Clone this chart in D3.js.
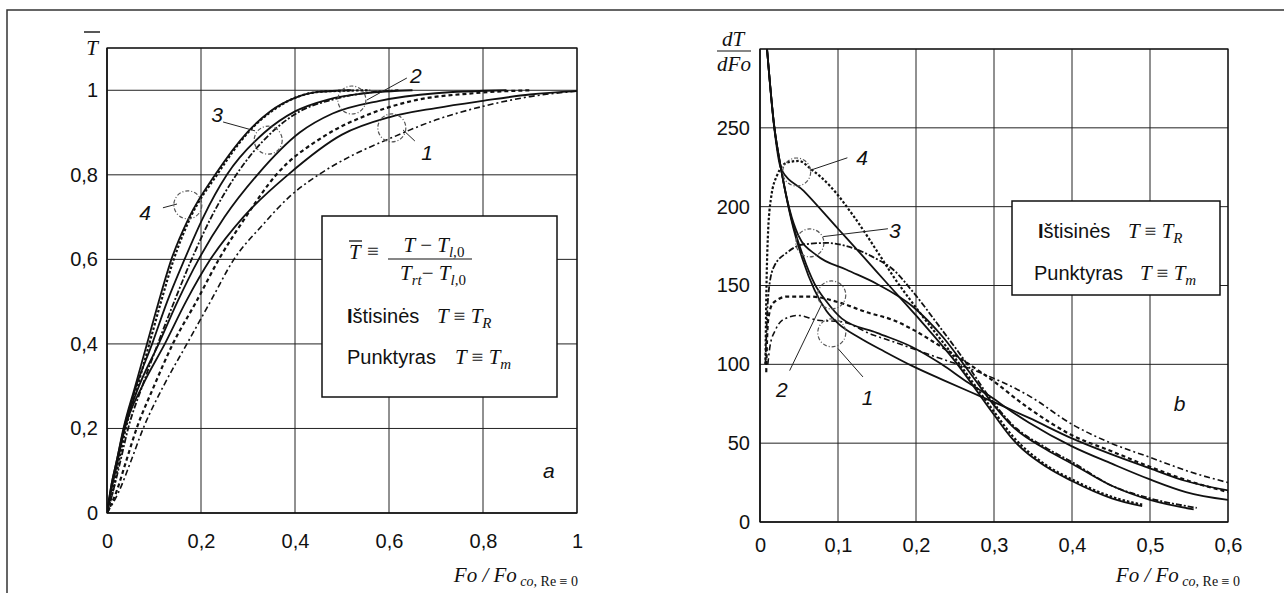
<!DOCTYPE html>
<html lang="lt">
<head>
<meta charset="UTF-8">
<script src="https://d3js.org/d3.v7.min.js"></script>
<style>
  body { margin: 0; background: #fff; }
  svg { display: block; }
  .tick text { font-family: "Liberation Sans", Arial, sans-serif; font-size: 20px; fill: #111; }
  .grid { stroke: #222; stroke-width: 1; }
  .border { fill: none; stroke: #111; stroke-width: 1.2; }
  .sans { font-family: "Liberation Sans", Arial, sans-serif; font-size: 20px; fill: #111; }
  .math { font-family: "Liberation Serif", "Times New Roman", serif; font-style: italic; font-size: 21px; fill: #111; }
  .up { font-style: normal; }
  .lbl { font-family: "Liberation Sans", Arial, sans-serif; font-style: italic; font-size: 21px; fill: #111; }
  .circ { fill: none; stroke: #555; stroke-width: 1.2; stroke-dasharray: 4 2 1 2; }
  .leader { stroke: #222; stroke-width: 1; }
  .legend { fill: #fff; stroke: #111; stroke-width: 1.5; }
</style>
</head>
<body>
<div id="chart"></div>
<script>
// ---- data: panel a (T bar vs Fo/Fo_co) ----
const aXTicks = [0, 0.2, 0.4, 0.6, 0.8, 1];
const aYTicks = [0, 0.2, 0.4, 0.6, 0.8, 1];

const a1Solid = [[0,0],[0.01,0.06],[0.02,0.11],[0.038,0.2],[0.075,0.3],[0.123,0.4],[0.168,0.5],[0.22,0.6],[0.29,0.7],[0.385,0.8],[0.5,0.895],[0.6,0.936],[0.7,0.958],[0.8,0.975],[0.9,0.99],[1,0.998]];
const a1Dash  = [[0,0],[0.025,0.05],[0.05,0.12],[0.077,0.2],[0.12,0.3],[0.17,0.4],[0.22,0.5],[0.27,0.6],[0.33,0.68],[0.39,0.75],[0.45,0.8],[0.52,0.845],[0.6,0.885],[0.7,0.93],[0.8,0.962],[0.9,0.985],[1,0.998]];
const a2Solid = [[0,0],[0.01,0.06],[0.02,0.11],[0.037,0.2],[0.068,0.3],[0.11,0.4],[0.15,0.5],[0.195,0.6],[0.25,0.7],[0.32,0.8],[0.41,0.9],[0.48,0.945],[0.58,0.975],[0.7,0.993],[0.85,1]];
const a2Dash  = [[0,0],[0.02,0.05],[0.04,0.12],[0.063,0.2],[0.1,0.3],[0.14,0.4],[0.19,0.5],[0.238,0.6],[0.295,0.7],[0.36,0.8],[0.46,0.89],[0.55,0.94],[0.65,0.975],[0.78,0.993],[0.9,1]];
const a3Solid = [[0,0],[0.01,0.07],[0.02,0.12],[0.036,0.2],[0.062,0.3],[0.096,0.4],[0.128,0.5],[0.165,0.6],[0.205,0.7],[0.255,0.8],[0.335,0.9],[0.4,0.95],[0.47,0.978],[0.55,0.993],[0.65,1]];
const a3Dash  = [[0,0],[0.015,0.06],[0.03,0.13],[0.045,0.2],[0.075,0.3],[0.108,0.4],[0.143,0.5],[0.18,0.6],[0.222,0.7],[0.275,0.8],[0.35,0.9],[0.41,0.95],[0.48,0.978],[0.56,0.995],[0.62,1]];
const a4Solid = [[0,0],[0.01,0.07],[0.02,0.12],[0.035,0.2],[0.06,0.3],[0.085,0.4],[0.11,0.5],[0.137,0.6],[0.175,0.7],[0.23,0.8],[0.298,0.9],[0.347,0.95],[0.4,0.982],[0.45,0.996],[0.52,1]];
const a4Dash  = [[0,0],[0.012,0.05],[0.025,0.12],[0.04,0.2],[0.065,0.3],[0.09,0.4],[0.115,0.5],[0.142,0.6],[0.178,0.7],[0.234,0.8],[0.3,0.9],[0.35,0.95],[0.4,0.982],[0.46,0.997],[0.56,1]];

// annotations: [label, circle x, circle y, label x, label y, leader x1, y1, x2, y2]
const aNotes = [
  ["1", 0.606, 0.911, 0.681, 0.852, 0.655, 0.880, 0.630, 0.906],
  ["2", 0.521, 0.977, 0.657, 1.034, 0.638, 1.029, 0.553, 0.977],
  ["3", 0.343, 0.882, 0.234, 0.942, 0.247, 0.925, 0.315, 0.904],
  ["4", 0.172, 0.729, 0.081, 0.710, 0.119, 0.722, 0.149, 0.731]
];

// ---- data: panel b (dT/dFo vs Fo/Fo_co) ----
const bXTicks = [0, 0.1, 0.2, 0.3, 0.4, 0.5, 0.6];
const bYTicks = [0, 50, 100, 150, 200, 250];

const b1Solid = [[0.009,300],[0.018,252],[0.027,224],[0.04,192],[0.055,166],[0.07,147],[0.085,134],[0.1,126],[0.127,117],[0.16,108],[0.195,99],[0.235,90],[0.272,82],[0.3,76],[0.345,66],[0.4,53],[0.45,43],[0.5,34],[0.546,26],[0.6,20]];
const b2Solid = [[0.009,300],[0.018,252],[0.027,224],[0.04,193],[0.055,169],[0.07,151],[0.085,140],[0.105,129],[0.15,120],[0.195,111],[0.233,100],[0.265,89],[0.294,80],[0.323,70],[0.345,63],[0.4,48],[0.451,37],[0.5,27],[0.546,19],[0.6,14]];
const b3Solid = [[0.009,300],[0.018,252],[0.027,224],[0.038,198],[0.049,182],[0.073,169],[0.111,160],[0.15,151],[0.195,137],[0.235,117],[0.27,94],[0.3,74],[0.323,61],[0.367,46],[0.4,37],[0.451,23],[0.5,14],[0.556,8]];
const b4Solid = [[0.009,300],[0.018,251],[0.027,224],[0.056,210],[0.1,186],[0.133,168],[0.16,153],[0.2,131],[0.25,102],[0.3,68],[0.323,53],[0.367,35],[0.4,26],[0.451,15],[0.49,10]];
const b1Dash  = [[0.01,100],[0.013,112],[0.02,122],[0.032,129],[0.049,131],[0.074,128],[0.105,127],[0.143,119],[0.173,114],[0.224,105],[0.281,95],[0.345,80],[0.4,62],[0.45,50],[0.5,41],[0.55,32],[0.6,25]];
const b2Dash  = [[0.008,95],[0.009,115],[0.011,130],[0.017,139],[0.035,143],[0.064,143],[0.103,139],[0.137,133],[0.171,128],[0.196,122],[0.233,111],[0.259,103],[0.292,92],[0.345,72],[0.4,55],[0.45,45],[0.5,35],[0.55,26],[0.6,19]];
const b3Dash  = [[0.007,100],[0.009,130],[0.012,150],[0.018,162],[0.035,171],[0.055,176],[0.086,177],[0.111,175],[0.145,168],[0.171,160],[0.196,146],[0.233,122],[0.26,104],[0.29,82],[0.323,62],[0.367,47],[0.4,38],[0.451,23],[0.5,15],[0.56,9]];
const b4Dash  = [[0.007,100],[0.008,140],[0.01,180],[0.014,205],[0.022,220],[0.035,228],[0.05,229],[0.065,224],[0.09,213],[0.12,194],[0.155,168],[0.172,155],[0.2,136],[0.25,104],[0.3,70],[0.323,55],[0.367,36],[0.4,27],[0.451,16],[0.49,11]];

const bNotes = [
  ["1", 0.092, 120, 0.138, 79, 0.132, 92, 0.100, 110],
  ["2", 0.092, 144, 0.028, 84, 0.038, 96, 0.079, 138],
  ["3", 0.064, 177, 0.173, 185, 0.164, 186, 0.081, 181],
  ["4", 0.047, 222, 0.131, 231, 0.112, 231, 0.064, 223]
];

// line styles per series
const solid = { dash: null, width: 1.8 };
const dashStyles = [
  { dash: "6 3 2 3", width: 1.6 },   // 1
  { dash: "4 3", width: 2.2 },       // 2
  { dash: "6 2 2 2", width: 1.8 },   // 3
  { dash: "2.5 2", width: 2.2 }      // 4
];

const width = 1284, height = 593;
const svg = d3.select("#chart").append("svg").attr("width", width).attr("height", height);

// outer frame
svg.append("path").attr("d", "M7,593V10H1284").attr("fill", "none").attr("stroke", "#333").attr("stroke-width", 1.5);

const comma = d3.formatLocale({ decimal: ",", thousands: " ", grouping: [3], currency: ["", ""] }).format("~g");

function panel(opt) {
  const x = d3.scaleLinear().domain(opt.xDomain).range(opt.xRange);
  const y = d3.scaleLinear().domain(opt.yDomain).range(opt.yRange);
  const g = svg.append("g");

  // grid
  g.selectAll(".gx").data(opt.xTicks.slice(1)).enter().append("line")
    .attr("class", "grid").attr("x1", d => x(d)).attr("x2", d => x(d))
    .attr("y1", y.range()[0]).attr("y2", y.range()[1]);
  g.selectAll(".gy").data(opt.yTicks.slice(1)).enter().append("line")
    .attr("class", "grid").attr("y1", d => y(d)).attr("y2", d => y(d))
    .attr("x1", x.range()[0]).attr("x2", x.range()[1]);
  g.append("rect").attr("class", "border")
    .attr("x", x.range()[0]).attr("y", y.range()[1])
    .attr("width", x.range()[1] - x.range()[0]).attr("height", y.range()[0] - y.range()[1]);
  g.append("line").attr("x1", x.range()[0]).attr("x2", x.range()[1])
    .attr("y1", y.range()[0]).attr("y2", y.range()[0]).attr("stroke", "#111").attr("stroke-width", 1.6);
  g.append("line").attr("x1", x.range()[0]).attr("x2", x.range()[0])
    .attr("y1", y.range()[0]).attr("y2", y.range()[1]).attr("stroke", "#111").attr("stroke-width", 1.6);

  // axes (labels only)
  const ax = g.append("g").attr("transform", `translate(0,${y.range()[0]})`)
    .call(d3.axisBottom(x).tickValues(opt.xTicks).tickFormat(comma).tickSize(0).tickPadding(opt.xPad));
  const ay = g.append("g").attr("transform", `translate(${x.range()[0]},0)`)
    .call(d3.axisLeft(y).tickValues(opt.yTicks).tickFormat(comma).tickSize(0).tickPadding(opt.yPad));
  ax.select(".domain").remove();
  ay.select(".domain").remove();
  ax.attr("font-size", null).attr("font-family", null);
  ay.attr("font-size", null).attr("font-family", null);

  // legend box
  g.append("rect").attr("class", "legend")
    .attr("x", opt.legend[0]).attr("y", opt.legend[1]).attr("width", opt.legend[2]).attr("height", opt.legend[3]);

  const clipId = "clip" + opt.id;
  svg.append("clipPath").attr("id", clipId).append("rect")
    .attr("x", x.range()[0]).attr("y", y.range()[1])
    .attr("width", x.range()[1] - x.range()[0]).attr("height", y.range()[0] - y.range()[1]);

  const line = d3.line().x(d => x(d[0])).y(d => y(d[1])).curve(d3.curveMonotoneX);
  const cg = g.append("g").attr("clip-path", `url(#${clipId})`);
  opt.series.forEach(s => {
    cg.append("path").datum(s.data)
      .attr("fill", "none").attr("stroke", "#111")
      .attr("stroke-width", s.style.width)
      .attr("stroke-dasharray", s.style.dash)
      .attr("stroke-linejoin", "round")
      .attr("d", line);
  });

  // annotations
  opt.notes.forEach(n => {
    g.append("circle").attr("class", "circ").attr("cx", x(n[1])).attr("cy", y(n[2])).attr("r", 14);
    g.append("line").attr("class", "leader")
      .attr("x1", x(n[5])).attr("y1", y(n[6])).attr("x2", x(n[7])).attr("y2", y(n[8]));
    g.append("text").attr("class", "lbl").attr("x", x(n[3])).attr("y", y(n[4]))
      .attr("dy", "0.36em").attr("text-anchor", "middle").text(n[0]);
  });
  return { x, y, g };
}

const series = (arrS, arrD) => {
  const out = [];
  arrS.forEach(d => out.push({ data: d, style: solid }));
  arrD.forEach((d, i) => out.push({ data: d, style: dashStyles[i] }));
  return out;
};

const A = panel({
  id: "a",
  xDomain: [0, 1], xRange: [107, 577],
  yDomain: [0, 1.1], yRange: [513, 48],
  xTicks: aXTicks, yTicks: aYTicks.concat([1.1]),
  xPad: 21, yPad: 9,
  legend: [322, 216, 235, 181],
  series: series([a1Solid, a2Solid, a3Solid, a4Solid], [a1Dash, a2Dash, a3Dash, a4Dash]),
  notes: aNotes
});
A.g.selectAll(".tick").filter(d => d > 1).remove();

const B = panel({
  id: "b",
  xDomain: [0, 0.6], xRange: [760, 1228],
  yDomain: [0, 300], yRange: [522, 49],
  xTicks: bXTicks, yTicks: bYTicks.concat([300]),
  xPad: 16, yPad: 10,
  legend: [1012, 201, 208, 94],
  series: series([b1Solid, b2Solid, b3Solid, b4Solid], [b1Dash, b2Dash, b3Dash, b4Dash]),
  notes: bNotes
});
B.g.selectAll(".tick").filter(d => d > 250).remove();

// ---- texts ----
function mathT(xPos, yPos, sub) {
  const t = svg.append("text").attr("class", "math").attr("x", xPos).attr("y", yPos);
  t.append("tspan").text("T ");
  t.append("tspan").attr("class", "up").text("≡");
  t.append("tspan").text(" T");
  t.append("tspan").attr("font-size", 15).attr("dy", 5).text(sub);
  return t;
}
function legendLines(x0, y0, x1, y1, xm1, xm2) {
  const l1 = svg.append("text").attr("class", "sans").attr("x", x0).attr("y", y0);
  l1.append("tspan").attr("font-weight", "bold").text("I");
  l1.append("tspan").text("štisinės");
  mathT(xm1, y0, "R");
  svg.append("text").attr("class", "sans").attr("x", x1).attr("y", y1).text("Punktyras");
  mathT(xm2, y1, "m");
}
legendLines(347, 323, 347, 364, 437, 455);
legendLines(1038, 238, 1034, 280, 1128, 1140);

// formula T bar = (T - T_l,0)/(T_rt - T_l,0)
svg.append("text").attr("class", "math").attr("x", 349).attr("y", 259).text("T");
svg.append("line").attr("x1", 349).attr("x2", 362).attr("y1", 241).attr("y2", 241).attr("stroke", "#111").attr("stroke-width", 1.3);
svg.append("text").attr("class", "math up").attr("x", 367).attr("y", 258).text("≡");
const num = svg.append("text").attr("class", "math").attr("x", 434).attr("y", 252).attr("text-anchor", "middle");
num.append("tspan").text("T ");
num.append("tspan").attr("class", "up").text("−");
num.append("tspan").text(" T");
num.append("tspan").attr("font-size", 15).attr("dy", 5).text("l,");
num.append("tspan").attr("font-size", 15).attr("class", "up").text("0");
svg.append("line").attr("x1", 388).attr("x2", 472).attr("y1", 259).attr("y2", 259).attr("stroke", "#111").attr("stroke-width", 1.2);
const den = svg.append("text").attr("class", "math").attr("x", 433).attr("y", 280).attr("text-anchor", "middle");
den.append("tspan").text("T");
den.append("tspan").attr("font-size", 15).attr("dy", 5).text("rt");
den.append("tspan").attr("class", "up").attr("dy", -5).text("−");
den.append("tspan").text(" T");
den.append("tspan").attr("font-size", 15).attr("dy", 5).text("l,");
den.append("tspan").attr("font-size", 15).attr("class", "up").text("0");

// y axis titles
svg.append("text").attr("class", "math").attr("x", 92).attr("y", 55).attr("text-anchor", "middle").text("T");
svg.append("line").attr("x1", 84).attr("x2", 100).attr("y1", 32).attr("y2", 32).attr("stroke", "#111").attr("stroke-width", 1.4);

svg.append("text").attr("class", "math").attr("font-size", 19).attr("x", 733).attr("y", 46).attr("text-anchor", "middle").text("dT");
svg.append("line").attr("x1", 717).attr("x2", 751).attr("y1", 51).attr("y2", 51).attr("stroke", "#111").attr("stroke-width", 1.2);
svg.append("text").attr("class", "math").attr("font-size", 19).attr("x", 734).attr("y", 71).attr("text-anchor", "middle").text("dFo");

// x axis titles
function xTitle(xEnd) {
  const t = svg.append("text").attr("class", "math").attr("font-size", 18)
    .attr("x", xEnd).attr("y", 582).attr("text-anchor", "end");
  t.append("tspan").text("Fo / Fo");
  t.append("tspan").attr("font-size", 14).attr("dy", 4).text(" co,");
  t.append("tspan").attr("font-size", 14).attr("class", "up").text(" Re ≡ 0");
}
xTitle(578);
xTitle(1240);

// panel letters
svg.append("text").attr("class", "lbl").attr("x", A.x(0.94)).attr("y", A.y(0.1)).attr("text-anchor", "middle").attr("dy", "0.36em").text("a");
svg.append("text").attr("class", "lbl").attr("x", B.x(0.538)).attr("y", B.y(75)).attr("text-anchor", "middle").attr("dy", "0.36em").text("b");
</script>
</body>
</html>
